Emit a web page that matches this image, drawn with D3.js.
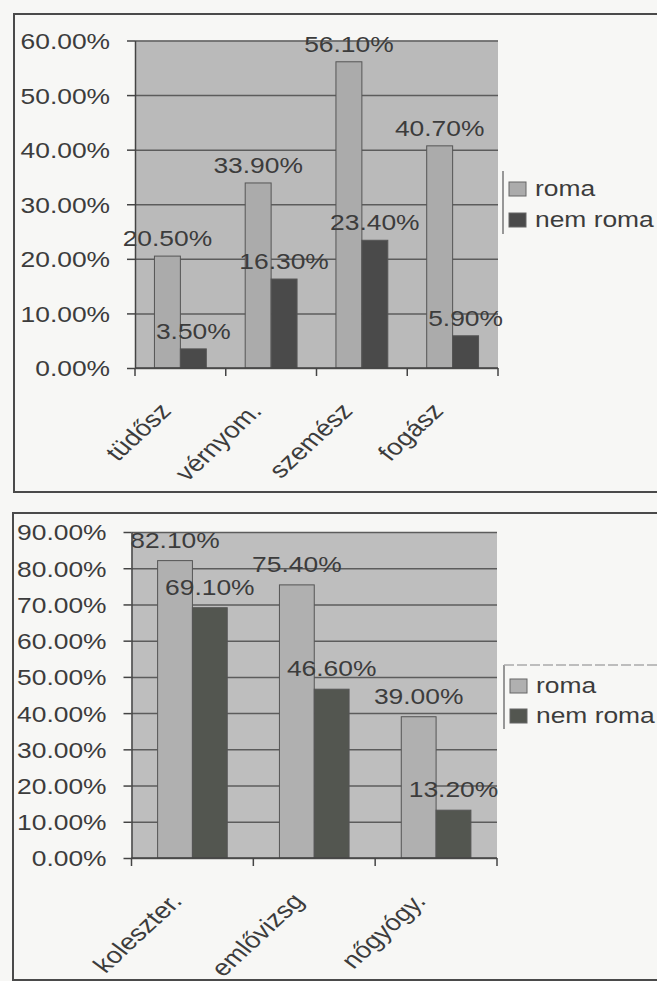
<!DOCTYPE html>
<html>
<head>
<meta charset="utf-8">
<script src="https://cdn.jsdelivr.net/npm/d3@7"></script>
<style>
  body { margin: 0; background: #f7f7f5; }
  svg { display: block; font-family: "Liberation Sans", Arial, sans-serif; }
</style>
</head>
<body>
<svg id="chart"></svg>
<script>
const width = 657;
const height = 981;

// data
const seriesNames = ["roma", "nem roma"];

const cats1 = ["tüdősz", "vérnyom.", "szemész", "fogász"];
const roma1 = [20.5, 33.9, 56.1, 40.7];
const nemRoma1 = [3.5, 16.3, 23.4, 5.9];
const ticks1 = [0, 10, 20, 30, 40, 50, 60];

const cats2 = ["koleszter.", "emlővizsg", "nőgyógy."];
const roma2 = [82.1, 75.4, 39.0];
const nemRoma2 = [69.1, 46.6, 13.2];
const ticks2 = [0, 10, 20, 30, 40, 50, 60, 70, 80, 90];

const stretch = 1.2;   // the scan is widened a bit
const textCol = "#3c3c3c";
const fmt = d => d.toFixed(2) + "%";

const svg = d3.select("#chart")
    .attr("width", width)
    .attr("height", height);

function drawChart(o) {
    const g = svg.append("g");

    // outer frame (runs off the right edge)
    g.append("rect")
        .attr("x", o.frame[0]).attr("y", o.frame[1])
        .attr("width", 720).attr("height", o.frame[2] - o.frame[1])
        .attr("fill", "none").attr("stroke", "#4a4a4a").attr("stroke-width", 2);

    const y = d3.scaleLinear()
        .domain([0, d3.max(o.ticks)])
        .range([o.bottom, o.top]);

    const x = d3.scaleBand()
        .domain(o.cats)
        .range([o.left, o.right]);

    const bw = x.bandwidth() / 3.5;
    const xs = d3.scaleBand()
        .domain(seriesNames)
        .range([0.75 * bw, 2.75 * bw]);

    g.append("rect")
        .attr("x", o.left).attr("y", o.top)
        .attr("width", o.right - o.left).attr("height", o.bottom - o.top)
        .attr("fill", o.bg);

    // gridlines
    g.append("g")
        .attr("transform", `translate(${o.left},0)`)
        .call(d3.axisLeft(y).tickValues(o.ticks).tickSize(-(o.right - o.left)).tickFormat(""))
        .call(s => s.select(".domain").remove())
        .selectAll("line")
        .attr("stroke", "#5c5c5c")
        .attr("stroke-width", 1.5);

    const rows = o.cats.map((c, i) => ({cat: c, vals: [o.roma[i], o.nem[i]]}));
    const fills = [o.romaCol, o.nemCol];

    const groups = g.selectAll(".grp")
        .data(rows)
        .enter()
        .append("g")
        .attr("class", "grp")
        .attr("transform", d => `translate(${x(d.cat)},0)`);

    groups.selectAll("rect")
        .data(d => d.vals.map((v, k) => ({s: seriesNames[k], v: v, k: k})))
        .enter()
        .append("rect")
        .attr("x", d => xs(d.s))
        .attr("y", d => y(d.v))
        .attr("width", xs.bandwidth())
        .attr("height", d => o.bottom - y(d.v))
        .attr("fill", d => fills[d.k])
        .attr("stroke", "#555")
        .attr("stroke-width", 1);

    groups.selectAll("text")
        .data(d => d.vals.map((v, k) => ({s: seriesNames[k], v: v})))
        .enter()
        .append("text")
        .attr("transform", d => `translate(${xs(d.s) + xs.bandwidth() / 2},${y(d.v) - o.labelGap}) scale(${stretch},1)`)
        .attr("text-anchor", "middle")
        .attr("font-size", 22)
        .attr("fill", textCol)
        .text(d => fmt(d.v));

    // y axis
    const yAxis = g.append("g")
        .attr("transform", `translate(${o.left},0)`)
        .call(d3.axisLeft(y).tickValues(o.ticks).tickSize(8).tickSizeOuter(0).tickPadding(12.8).tickFormat(fmt));
    yAxis.select(".domain").attr("stroke", "#444").attr("stroke-width", 1.5);
    yAxis.selectAll("line").attr("stroke", "#444").attr("stroke-width", 1.5);
    yAxis.selectAll("text")
        .attr("font-family", "Liberation Sans, Arial, sans-serif")
        .attr("font-size", 22)
        .attr("dy", "0.36em")
        .attr("fill", textCol)
        .attr("transform", `scale(${stretch},1)`);

    // x axis with ticks on category boundaries
    const xg = g.append("g");
    xg.append("line")
        .attr("x1", o.left).attr("x2", o.right)
        .attr("y1", o.bottom).attr("y2", o.bottom)
        .attr("stroke", "#444").attr("stroke-width", 1.5);
    xg.selectAll(".tk")
        .data(o.cats.map(c => x(c)).concat([o.right]))
        .enter()
        .append("line")
        .attr("x1", d => d).attr("x2", d => d)
        .attr("y1", o.bottom).attr("y2", o.bottom + 8)
        .attr("stroke", "#444").attr("stroke-width", 1.5);
    xg.selectAll(".cl")
        .data(o.cats)
        .enter()
        .append("text")
        .attr("transform", d => `translate(${x(d) + x.bandwidth() / 2 + o.catDx},${o.bottom + o.catDy}) scale(${stretch},1) rotate(-48)`)
        .attr("text-anchor", "end")
        .attr("font-size", 23)
        .attr("fill", textCol)
        .text(d => d);

    // legend
    const lg = g.append("g");
    lg.append("line")
        .attr("x1", o.legX).attr("x2", o.legX)
        .attr("y1", o.legTop).attr("y2", o.legBottom)
        .attr("stroke", "#777").attr("stroke-width", 1.5);
    if (o.legTopLine) {
        lg.append("line")
            .attr("x1", o.legX).attr("x2", width)
            .attr("y1", o.legTop).attr("y2", o.legTop)
            .attr("stroke", "#aaa").attr("stroke-width", 1.5)
            .attr("stroke-dasharray", "10,3");
    }
    lg.selectAll(".it")
        .data(seriesNames)
        .enter()
        .append("g")
        .attr("transform", (d, i) => `translate(${o.legX + 6},${o.legY[i]})`)
        .each(function(d, i) {
            const it = d3.select(this);
            it.append("rect")
                .attr("x", 0).attr("y", -14)
                .attr("width", 17).attr("height", 14)
                .attr("fill", fills[i]).attr("stroke", "#666");
            it.append("text")
                .attr("transform", `translate(26,0) scale(${stretch},1)`)
                .attr("font-size", 22)
                .attr("fill", textCol)
                .text(d);
        });
}

drawChart({
    cats: cats1, roma: roma1, nem: nemRoma1, ticks: ticks1,
    frame: [14, 14, 492],
    left: 135, right: 498, top: 40.5, bottom: 368,
    bg: "#bababa", romaCol: "#ababab", nemCol: "#4a4a4a",
    labelGap: 10, catDx: -8, catDy: 44,
    legX: 503, legTop: 171, legBottom: 234, legY: [196, 227], legTopLine: false
});

drawChart({
    cats: cats2, roma: roma2, nem: nemRoma2, ticks: ticks2,
    frame: [13, 513, 980],
    left: 131.5, right: 497, top: 532, bottom: 858,
    bg: "#bebebe", romaCol: "#b0b0b0", nemCol: "#535650",
    labelGap: 13, catDx: -9, catDy: 44,
    legX: 504, legTop: 665, legBottom: 729, legY: [693, 723], legTopLine: true
});
</script>
</body>
</html>
